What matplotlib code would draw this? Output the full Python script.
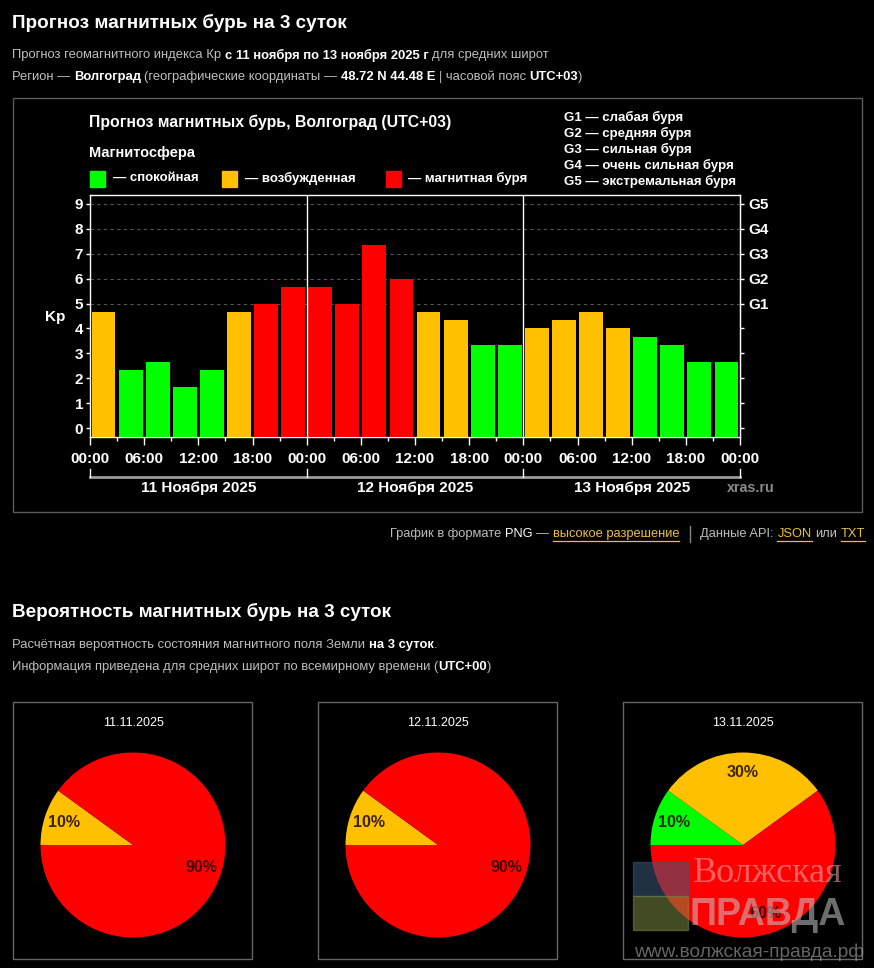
import matplotlib
matplotlib.use('Agg')
import numpy as np
import matplotlib.pyplot as plt
from matplotlib.patches import Rectangle
from matplotlib.transforms import Affine2D, blended_transform_factory

plt.rcParams['font.family'] = ['Liberation Sans', 'DejaVu Sans']

W, H = 874, 968

# Kp forecast, 3-hour steps, 11-13 Nov 2025 (UTC+03)
kp_values = [4.67, 2.33, 2.67, 1.67, 2.33, 4.67, 5.0, 5.67,
             5.67, 5.0, 7.33, 6.0, 4.67, 4.33, 3.33, 3.33,
             4.0, 4.33, 4.67, 4.0, 3.67, 3.33, 2.67, 2.67]
day_labels = ['11 Ноября 2025', '12 Ноября 2025', '13 Ноября 2025']
hour_labels = ['00:00', '06:00', '12:00', '18:00']
g_labels = ['G1', 'G2', 'G3', 'G4', 'G5']
g_names = ['слабая буря', 'средняя буря', 'сильная буря',
           'очень сильная буря', 'экстремальная буря']
state_names = ['спокойная', 'возбужденная', 'магнитная буря']

# storm probability (UTC+00)
pie_dates = ['11.11.2025', '12.11.2025', '13.11.2025']
pie_calm = [0, 0, 10]
pie_active = [10, 10, 30]
pie_storm = [90, 90, 60]

GREEN, YELLOW, RED = '#00ff00', '#ffc000', '#ff0000'
GRAY_TXT = '#bdbdbd'
LINK = '#e8c040'

fig = plt.figure(figsize=(W / 100, H / 100), dpi=100, facecolor='black')
px = Affine2D().scale(1 / W, -1 / H).translate(0, 1) + fig.transFigure
renderer = fig.canvas.get_renderer()


def put(x, y, s, **kw):
    kw.setdefault('va', 'center')
    return fig.text(x, y, s, transform=px, **kw)


def text_width(s, size, weight):
    t = fig.text(0, 0, s, fontsize=size, fontweight=weight)
    w = t.get_window_extent(renderer).width
    t.remove()
    return w * W / fig.bbox.width


def runs(x, y, parts, size=9.4, align='left'):
    """parts: (text, bold, color, underline) or ('GAP', pixels)"""
    placed = []
    seps = []
    cur = x
    for part in parts:
        if part[0] == 'GAP':
            seps.append(cur + part[1] / 2)
            cur += part[1]
            continue
        s, bold, color, under = part
        weight = 'bold' if bold else 'normal'
        sp = text_width('x x', size, weight) - text_width('xx', size, weight)
        lead = len(s) - len(s.lstrip(' '))
        trail = len(s) - len(s.rstrip(' '))
        core = s.strip(' ')
        cur += lead * sp
        w = text_width(core, size, weight) if core else 0
        t = put(cur, y, core, fontsize=size, fontweight=weight, color=color)
        placed.append([t, cur, w, under, color])
        cur += w + trail * sp
    shift = (x - cur) if align == 'right' else 0
    for t, x0, w, under, color in placed:
        t.set_x(x0 + shift)
        if under:
            fig.add_artist(plt.Line2D([x0 + shift, x0 + shift + w], [y + 6.5, y + 6.5],
                                      transform=px, color=color, lw=0.9))
    for sx in seps:
        fig.add_artist(plt.Line2D([sx + shift, sx + shift], [y - 8, y + 8],
                                  transform=px, color='#888888', lw=1))
    return cur + shift


# ---- page header ----
put(12, 23, 'Прогноз магнитных бурь на 3 суток', fontsize=13.6, fontweight='bold', color='white')
runs(12, 55, [('Прогноз геомагнитного индекса Кр ', False, GRAY_TXT, False),
              ('с 11 ноября по 13 ноября 2025 г', True, 'white', False),
              (' для средних широт', False, GRAY_TXT, False)])
runs(12, 77, [('Регион — ', False, GRAY_TXT, False),
              ('Волгоград', True, 'white', False),
              (' (географические координаты — ', False, GRAY_TXT, False),
              ('48.72 N 44.48 E', True, 'white', False),
              (' | часовой пояс ', False, GRAY_TXT, False),
              ('UTC+03', True, 'white', False),
              (')', False, GRAY_TXT, False)])

# ---- chart frame ----
fig.add_artist(Rectangle((12.5, 97.5), 849, 414, transform=px, fill=False,
                         edgecolor='#5a5a5a', lw=1))
put(89, 122, 'Прогноз магнитных бурь, Волгоград (UTC+03)', fontsize=11.4,
    fontweight='bold', color='white')
put(89, 153, 'Магнитосфера', fontsize=10.5, fontweight='bold', color='white')
for (sx, tx), col, name in zip([(90, 113), (222, 245), (386, 408)],
                               [GREEN, YELLOW, RED], state_names):
    fig.add_artist(Rectangle((sx, 171), 15, 16, transform=px, color=col))
    put(tx, 178, '— ' + name, fontsize=9.5, fontweight='bold', color='white')
for i, (g, name) in enumerate(zip(g_labels, g_names)):
    put(564, 117 + 16 * i, f'{g} — {name}', fontsize=9.5, fontweight='bold', color='white')

# ---- Kp bars ----
ax = fig.add_axes([90 / W, 1 - 437 / H, 650 / W, (437 - 195) / H])
ax.set_facecolor('black')
n = len(kp_values)
xs = np.arange(n) + 0.5
ymin, ymax = -0.35, 9.35
colors = [GREEN if v < 4 else YELLOW if v < 5 else RED for v in kp_values]
ax.bar(xs, [v - ymin for v in kp_values], bottom=ymin, width=0.88,
       color=colors, zorder=3)
ax.set_xlim(0, n)
ax.set_ylim(ymin, ymax)
for lvl in range(5, 10):
    ax.axhline(lvl, color='#555555', lw=0.8, ls=(0, (3, 3)), zorder=1)
for d in range(1, len(day_labels)):
    ax.axvline(d * 8, color='white', lw=1, zorder=4)
for sp in ax.spines.values():
    sp.set_color('white')
    sp.set_linewidth(1)

ax.set_xticks(range(0, n + 1, 2))
ax.set_xticks(range(1, n, 2), minor=True)
ax.set_xticklabels([hour_labels[(i // 2) % 4] for i in range(0, n + 1, 2)],
                   fontweight='bold')
ax.tick_params(axis='x', which='major', length=6, width=1, color='white',
               labelcolor='white', labelsize=11, pad=4.5)
ax.tick_params(axis='x', which='minor', length=3, width=1, color='white')
ax.set_yticks(range(10))
ax.set_yticklabels([str(i) for i in range(10)], fontweight='bold')
ax.tick_params(axis='y', length=3, width=1, color='white', labelcolor='white',
               labelsize=11, pad=2)

sec = ax.secondary_yaxis('right')
sec.set_yticks(range(10))
sec.set_yticklabels([''] * 5 + g_labels, fontweight='bold')
sec.tick_params(length=3, width=1, color='white', labelcolor='white',
                labelsize=11, pad=3)
sec.spines['right'].set_color('white')

put(45, 317, 'Kp', fontsize=11, fontweight='bold', color='white')

blend = blended_transform_factory(ax.transData, px)
ax.plot([0, n], [477, 477], transform=blend, color='#9a9a9a', lw=2, clip_on=False)
for d in range(len(day_labels) + 1):
    ax.plot([d * 8, d * 8], [469, 477], transform=blend, color='white', lw=1,
            clip_on=False)
for d, lab in enumerate(day_labels):
    ax.text(d * 8 + 4, 488, lab, transform=blend, ha='center', va='center',
            fontsize=11, fontweight='bold', color='white')
put(727, 488, 'xras.ru', fontsize=10.3, fontweight='bold', color='#8a8a8a')

# ---- links line ----
runs(865, 534, [('График в формате ', False, GRAY_TXT, False),
                ('PNG', False, 'white', False),
                (' — ', False, GRAY_TXT, False),
                ('высокое разрешение', False, LINK, True),
                ('GAP', 21),
                ('Данные API: ', False, GRAY_TXT, False),
                ('JSON', False, LINK, True),
                (' или ', False, GRAY_TXT, False),
                ('TXT', False, LINK, True)], size=9.3, align='right')

# ---- probability section ----
put(12, 612, 'Вероятность магнитных бурь на 3 суток', fontsize=13.6,
    fontweight='bold', color='white')
runs(12, 645, [('Расчётная вероятность состояния магнитного поля Земли ', False, GRAY_TXT, False),
               ('на 3 суток', True, 'white', False),
               ('.', False, GRAY_TXT, False)])
runs(12, 667, [('Информация приведена для средних широт по всемирному времени (', False, GRAY_TXT, False),
               ('UTC+00', True, 'white', False),
               (')', False, GRAY_TXT, False)])

box_left = [13, 318, 623]
R = 92.5
for bx, date, calm, act, storm in zip(box_left, pie_dates, pie_calm, pie_active, pie_storm):
    fig.add_artist(Rectangle((bx, 702), 239, 257, transform=px, fill=False,
                             edgecolor='#666666', lw=1))
    cx = bx + 120
    put(cx, 723, date, fontsize=9, color='white', ha='center')
    pax = fig.add_axes([(cx - R) / W, 1 - (845 + R) / H, 2 * R / W, 2 * R / H])
    pax.set_facecolor('black')
    _, _, autotexts = pax.pie([calm, act, storm], colors=[GREEN, YELLOW, RED],
                              startangle=180, counterclock=False,
                              autopct=lambda p: f'{p:.0f}%' if p > 0.5 else '',
                              pctdistance=0.78, wedgeprops=dict(linewidth=0))
    for t in autotexts:
        t.set_fontsize(11.5)
        t.set_fontweight('bold')
        t.set_color('#1a0800')
        t.set_alpha(0.85)
    pax.set_xlim(-1, 1)
    pax.set_ylim(-1, 1)
    pax.set_aspect('equal')
    pax.axis('off')

# ---- watermark ----
fig.add_artist(Rectangle((633, 862), 55, 34, transform=px, color='#3a5a7a',
                         alpha=0.55, zorder=20))
fig.add_artist(Rectangle((633, 896), 55, 34, transform=px, color='#7a8a40',
                         alpha=0.55, zorder=20))
put(693, 874, 'Волжская', fontsize=26, family='Liberation Serif', color='#f2b0b0',
    alpha=0.55, zorder=21)
put(690, 915, 'ПРАВДА', fontsize=27, fontweight='bold', color='#c8c8c8',
    alpha=0.55, zorder=21)
put(634, 952, 'www.волжская-правда.рф', fontsize=13.8, color='#aaaaaa',
    alpha=0.6, zorder=21)

fig.savefig('out.png', dpi=100, facecolor='black')
